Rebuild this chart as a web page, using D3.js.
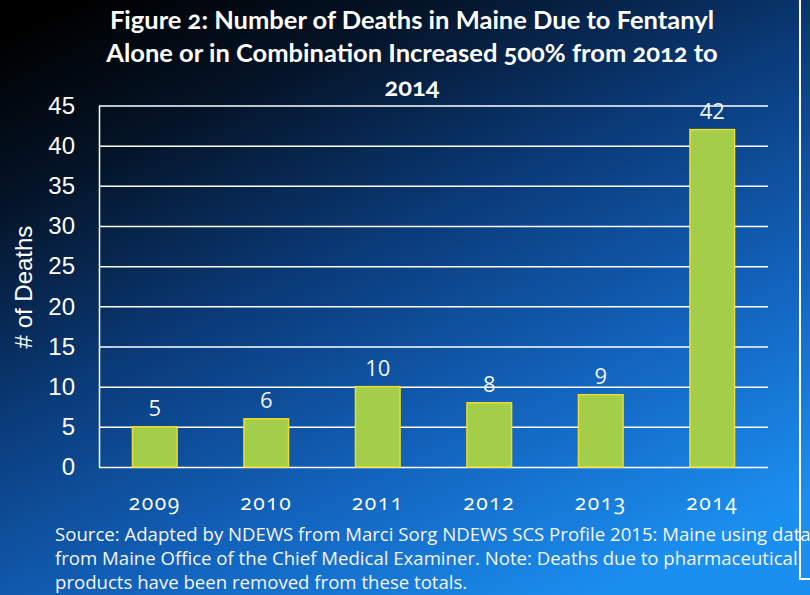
<!DOCTYPE html>
<html>
<head>
<meta charset="utf-8">
<script src="https://cdn.jsdelivr.net/npm/d3@7"></script>
<style>
  body { margin: 0; padding: 0; overflow: hidden; }
  svg { display: block; }
</style>
</head>
<body>
<figure id="bar" style="margin:0"></figure>
<script>
// chart values
const years = ["2009", "2010", "2011", "2012", "2013", "2014"];
const deaths = [5, 6, 10, 8, 9, 42];
const yTicks = [0, 5, 10, 15, 20, 25, 30, 35, 40, 45];
const titleLines = [
  "Figure 2: Number of Deaths in Maine Due to Fentanyl",
  "Alone or in Combination Increased 500% from 2012 to",
  "2014"
];
const yTitle = "# of Deaths";
const sourceLines = [
  "Source: Adapted by NDEWS from Marci Sorg NDEWS SCS Profile 2015: Maine using data",
  "from Maine Office of the Chief Medical Examiner. Note: Deaths due to pharmaceutical",
  "products have been removed from these totals."
];

const W = 810, H = 595;
const margin = { top: 105.5, right: 42, bottom: 128, left: 99 };
const width = W - margin.left - margin.right;
const height = H - margin.top - margin.bottom;

const svg = d3.select("figure#bar")
  .append("svg")
  .attr("width", W)
  .attr("height", H);

// background gradient
const defs = svg.append("defs");
const bg = defs.append("linearGradient")
  .attr("id", "bg")
  .attr("x1", "10%").attr("y1", "0%")
  .attr("x2", "75%").attr("y2", "100%");
bg.append("stop").attr("offset", "0%").attr("stop-color", "#000000");
bg.append("stop").attr("offset", "20%").attr("stop-color", "#041428");
bg.append("stop").attr("offset", "45%").attr("stop-color", "#0a3a78");
bg.append("stop").attr("offset", "72%").attr("stop-color", "#1262bb");
bg.append("stop").attr("offset", "100%").attr("stop-color", "#1b8ff0");

svg.append("rect").attr("width", W).attr("height", H).attr("fill", "url(#bg)");

// box edge on the right
svg.append("path")
  .attr("d", "M800,0 V579 H812")
  .attr("fill", "none")
  .attr("stroke", "#ffffff")
  .attr("stroke-width", 2);

// title
svg.append("g").selectAll("text")
  .data(titleLines)
  .enter()
  .append("text")
  .attr("x", 412)
  .attr("y", (d, i) => [29, 62, 96][i])
  .attr("text-anchor", "middle")
  .attr("fill", "#ffffff")
  .style("font-family", "Lato, 'Open Sans', sans-serif")
  .style("font-weight", "bold")
  .style("font-size", "25.5px")
  .style("font-variant-numeric", "oldstyle-nums")
  .text(d => d);

const g = svg.append("g")
  .attr("transform", "translate(" + margin.left + "," + margin.top + ")");

const x = d3.scaleBand()
  .range([0, width])
  .domain(years)
  .paddingInner(0.6)
  .paddingOuter(0.3);

const y = d3.scaleLinear()
  .domain([0, 45])
  .range([height, 0]);

// gridlines
const grid = g.append("g")
  .call(d3.axisLeft(y).tickValues(yTicks).tickSize(-width).tickFormat(""));
grid.select(".domain").remove();
grid.selectAll("line").attr("stroke", "#ffffff").attr("stroke-width", 1.5);

// y axis labels
const yAxis = g.append("g")
  .call(d3.axisLeft(y).tickValues(yTicks).tickSize(0).tickPadding(24));
yAxis.select(".domain").attr("stroke", "#ffffff").attr("stroke-width", 1.5);
yAxis.selectAll("text")
  .attr("fill", "#ffffff")
  .style("font-family", "'Liberation Sans', Arial, sans-serif")
  .style("font-size", "24px");

// x axis labels
const xAxis = g.append("g")
  .attr("transform", "translate(0," + height + ")")
  .call(d3.axisBottom(x).tickSize(0).tickPadding(28));
xAxis.select(".domain").remove();
xAxis.selectAll("text")
  .attr("fill", "#ffffff")
  .style("font-family", "'Open Sans', sans-serif")
  .style("font-size", "21px")
  .style("letter-spacing", "1.5px")
  .style("font-variant-numeric", "oldstyle-nums");

// bars
const rows = years.map((yr, i) => ({ year: yr, value: deaths[i] }));
g.selectAll("rect.bar")
  .data(rows)
  .enter()
  .append("rect")
  .attr("class", "bar")
  .attr("x", d => x(d.year))
  .attr("y", d => y(d.value))
  .attr("width", x.bandwidth())
  .attr("height", d => height - y(d.value))
  .attr("fill", "#a4cd4a")
  .attr("stroke", "#eedc2c")
  .attr("stroke-width", 1.5);

// data labels
g.selectAll("text.lbl")
  .data(rows)
  .enter()
  .append("text")
  .attr("class", "lbl")
  .attr("x", d => x(d.year) + x.bandwidth() / 2)
  .attr("y", d => y(d.value) - 11)
  .attr("text-anchor", "middle")
  .attr("fill", "#f2f2f2")
  .style("font-family", "'Open Sans', sans-serif")
  .style("font-size", "22px")
  .text(d => d.value);

// y title
svg.append("text")
  .attr("transform", "translate(32,287) rotate(-90)")
  .attr("text-anchor", "middle")
  .attr("fill", "#ffffff")
  .style("font-family", "'Liberation Sans', Arial, sans-serif")
  .style("font-size", "24px")
  .text(yTitle);

// source note
svg.append("g").selectAll("text")
  .data(sourceLines)
  .enter()
  .append("text")
  .attr("x", 55)
  .attr("y", (d, i) => 541 + i * 24)
  .attr("fill", "#f4f4f4")
  .style("font-family", "'Open Sans', sans-serif")
  .style("font-size", "18.6px")
  .text(d => d);
</script>
</body>
</html>
